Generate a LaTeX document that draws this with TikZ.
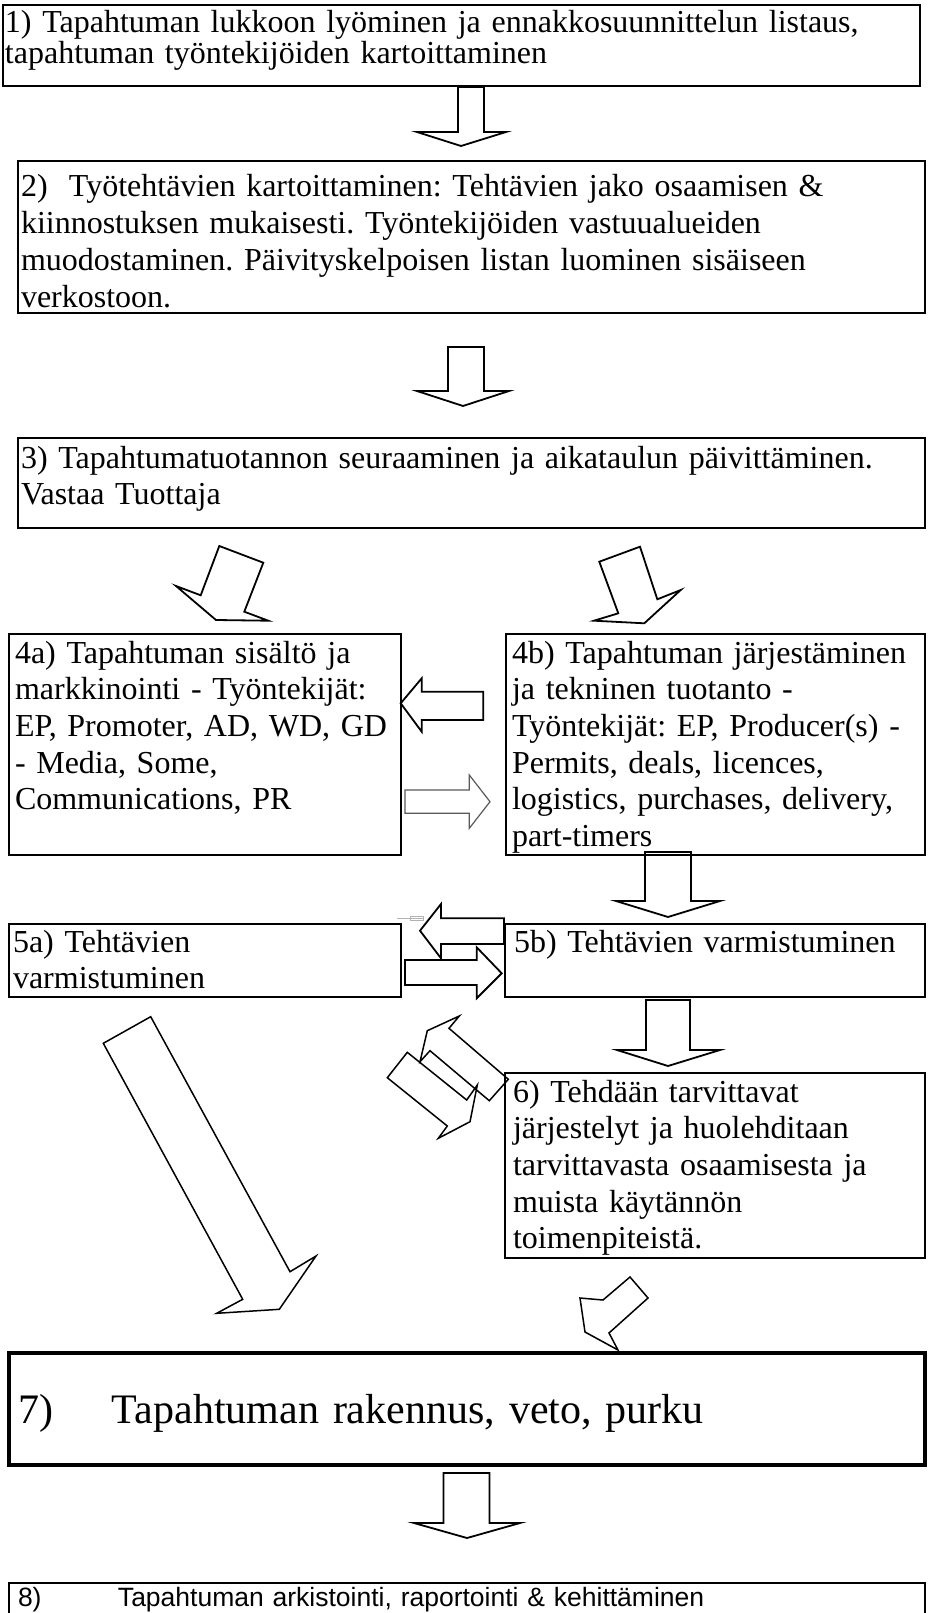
\documentclass[tikz,border=0pt]{standalone}
\usepackage{fontspec}
\setmainfont{Liberation Serif}
\newfontfamily\arialfont{Liberation Sans}
\frenchspacing
\begin{document}
\begin{tikzpicture}[x=1pt,y=-1pt,
  laatikko/.style={draw,line width=2pt,anchor=north west,align=left,
    inner ysep=0pt,outer sep=0pt,font=\fontsize{32}{36.7}\selectfont},
  nuoli/.style={draw,line width=1.8pt,line join=miter},
  harmaa/.style={draw,line width=1.2pt,black!65,line join=miter}]
  \useasboundingbox (0,0) rectangle (927,1613);

  %laatikot
  \node[laatikko,inner xsep=2pt,text width=913pt,text height=28pt,text depth=53pt,
    font=\fontsize{32}{30.5}\selectfont] (b1) at (3,5)
    {1) Tapahtuman lukkoon lyöminen ja ennakkosuunnittelun listaus,\\
     tapahtuman työntekijöiden kartoittaminen};
  \node[laatikko,inner xsep=3pt,text width=901pt,text height=36pt,text depth=116pt] (b2) at (18,161)
    {2)~~Työtehtävien kartoittaminen: Tehtävien jako osaamisen \&\\
     kiinnostuksen mukaisesti. Työntekijöiden vastuualueiden\\
     muodostaminen. Päivityskelpoisen listan luominen sisäiseen\\
     verkostoon.};
  \node[laatikko,inner xsep=3pt,text width=901pt,text height=30pt,text depth=60pt] (b3) at (18,438)
    {3) Tapahtumatuotannon seuraaminen ja aikataulun päivittäminen.\\
     Vastaa Tuottaja};
  \node[laatikko,inner xsep=6pt,text width=380pt,text height=29pt,text depth=192pt] (b4a) at (9,634)
    {4a) Tapahtuman sisältö ja\\
     markkinointi - Työntekijät:\\
     EP, Promoter, AD, WD, GD\\
     - Media, Some,\\
     Communications, PR};
  \node[laatikko,inner xsep=6pt,text width=407pt,text height=29pt,text depth=192pt] (b4b) at (506,634)
    {4b) Tapahtuman järjestäminen\\
     ja tekninen tuotanto -\\
     Työntekijät: EP, Producer(s) -\\
     Permits, deals, licences,\\
     logistics, purchases, delivery,\\
     part-timers};
  \node[laatikko,inner xsep=4pt,text width=384pt,text height=28pt,text depth=45pt] (b5a) at (9,924)
    {5a) Tehtävien\\
     varmistuminen};
  \node[laatikko,inner xsep=9pt,text width=402pt,text height=28pt,text depth=45pt] (b5b) at (505,924)
    {5b) Tehtävien varmistuminen};
  \node[laatikko,inner xsep=8pt,text width=404pt,text height=29pt,text depth=156pt] (b6) at (505,1073)
    {6) Tehdään tarvittavat\\
     järjestelyt ja huolehditaan\\
     tarvittavasta osaamisesta ja\\
     muista käytännön\\
     toimenpiteistä.};
  \node[laatikko,line width=3.5pt,inner xsep=9pt,text width=898pt,text height=70pt,text depth=42pt,
    font=\fontsize{42}{48}\selectfont] (b7) at (9,1353)
    {\makebox[94pt][l]{7)}Tapahtuman rakennus, veto, purku};
  \node[laatikko,inner xsep=9pt,text width=898pt,text height=23pt,text depth=60pt,
    font=\arialfont\fontsize{26.5}{31}\selectfont] (b8) at (9,1583)
    {\makebox[100pt][l]{8)}Tapahtuman arkistointi, raportointi \& kehittäminen};

  %nuolet alas
  \draw[nuoli] (458,87) -- (484,87) -- (484,132) -- (506,132) -- (461,146) -- (417,132) -- (458,132) -- cycle;
  \draw[nuoli] (448,347) -- (484,347) -- (484,391) -- (509,391) -- (463,406) -- (417,391) -- (448,391) -- cycle;
  \draw[nuoli] (645,852) -- (691,852) -- (691,901) -- (720,901) -- (668,917) -- (616,901) -- (645,901) -- cycle;
  \draw[nuoli] (646,1000) -- (690,1000) -- (690,1050) -- (720,1050) -- (668,1066) -- (617,1050) -- (646,1050) -- cycle;
  \draw[nuoli] (443.5,1473) -- (489.5,1473) -- (489.5,1523) -- (520,1523) -- (467,1538) -- (414,1523) -- (443.5,1523) -- cycle;

  %vinot nuolet 3 -> 4a ja 4b
  \draw[nuoli] (219.3,546) -- (263.3,562.7) -- (244.3,611.7) -- (268.3,620.7) -- (216,620) -- (176,586) -- (200.7,595.3) -- cycle;
  \draw[nuoli] (599.3,561.7) -- (640,546.7) -- (657.3,599.3) -- (680.7,590) -- (644.3,623.3) -- (594,620.7) -- (618.3,613.3) -- cycle;

  %sivuttaiset nuolet 4a <-> 4b
  \draw[nuoli] (400.7,703.3) -- (421.7,678.3) -- (421.7,691.7) -- (483.3,691.7) -- (483.3,720) -- (421.7,720) -- (421.7,731.7) -- cycle;
  \draw[harmaa] (405,790) -- (469.3,790) -- (469.3,775) -- (490,801.7) -- (469.3,828.3) -- (469.3,813.3) -- (405,813.3) -- cycle;

  %sivuttaiset nuolet 5a <-> 5b
  \draw[nuoli] (420,930.7) -- (441,904) -- (441,918.3) -- (504,918.3) -- (504,944) -- (441,944) -- (441,958.3) -- cycle;
  \draw[nuoli] (405,960) -- (476.7,960) -- (476.7,947.3) -- (501.7,973.3) -- (476.7,998.3) -- (476.7,985) -- (405,985) -- cycle;
  \draw[black!30,line width=0.8pt] (397,918) -- (423,918);
  \draw[black!30,line width=0.8pt] (410,916.5) rectangle (423,920);

  %kaksoisnuoli 6 <-> 5
  \draw[nuoli,line width=1.5pt] (508.3,1079.3) -- (449,1028.3) -- (459.3,1016) -- (427.3,1030.7) -- (420,1061.7) -- (430,1050.7) -- (489.3,1100.7) -- cycle;
  \draw[nuoli,line width=1.5pt] (407.3,1052.3) -- (387.3,1077.7) -- (447.3,1126) -- (438.3,1138.3) -- (470,1121.7) -- (477.3,1085) -- (466.7,1100) -- cycle;

  %iso nuoli 5a -> 7
  \draw[nuoli,line width=1.5pt] (103.3,1043.3) -- (150.7,1016.7) -- (290,1271.7) -- (316,1256) -- (279.3,1309.3) -- (216.7,1313.3) -- (242.7,1299.3) -- cycle;

  %nuoli 6 -> 7
  \draw[nuoli,line width=1.5pt] (630,1277) -- (648,1298) -- (609,1333) -- (618,1350) -- (585,1332) -- (580,1298) -- (603,1300) -- cycle;
\end{tikzpicture}
\end{document}
